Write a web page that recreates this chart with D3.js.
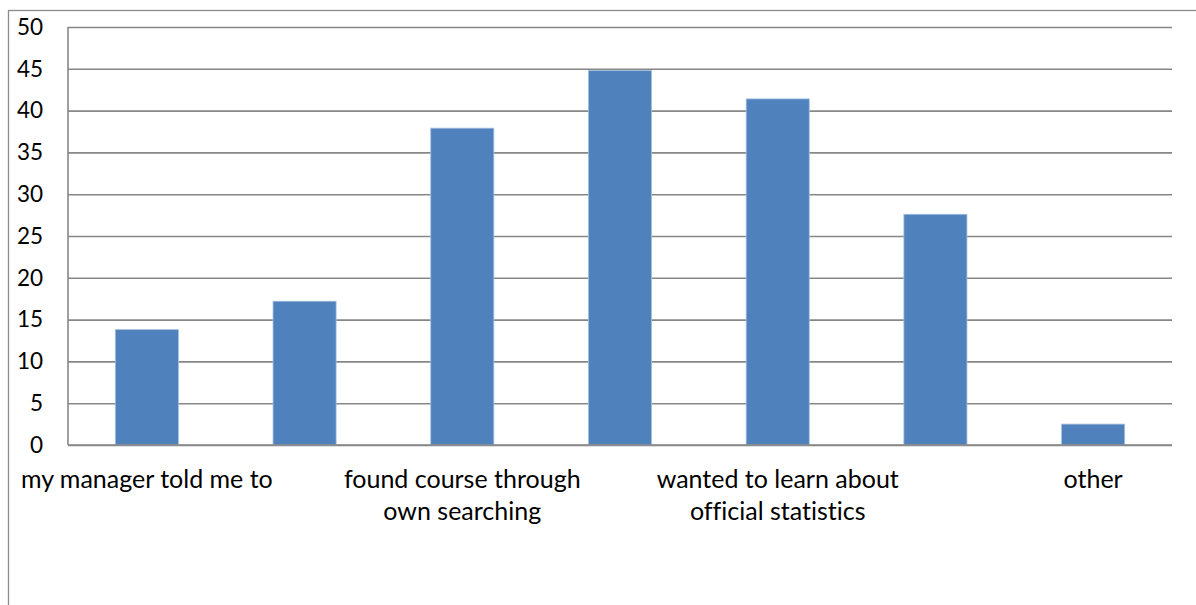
<!DOCTYPE html>
<html>
<head>
<meta charset="utf-8">
<script src="https://cdn.jsdelivr.net/npm/d3@7/dist/d3.min.js"></script>
<style>
  html, body { margin: 0; padding: 0; background: #fff; }
  svg { display: block; }
  text { font-family: Lato, "Liberation Sans", sans-serif; fill: #000; font-variant-ligatures: none; }
</style>
</head>
<body>
<svg id="chart" width="1196" height="605"></svg>
<script>
// Data (labels of alternate categories are hidden in the original chart)
const categories = [
  "my manager told me to",
  "",
  "found course through own searching",
  "",
  "wanted to learn about official statistics",
  "",
  "other"
];
const values = [13.8, 17.2, 37.9, 44.8, 41.4, 27.6, 2.5];
const yTicks = [0, 5, 10, 15, 20, 25, 30, 35, 40, 45, 50];

const svg = d3.select("#chart");
const W = 1196, H = 605;

// outer chart border
svg.append("rect")
  .attr("x", 8.5).attr("y", 10.5)
  .attr("width", W + 20).attr("height", H + 20)
  .attr("fill", "#fff")
  .attr("stroke", "#8c8c8c")
  .attr("stroke-width", 1.3);

const plot = { left: 68, right: 1172, top: 27, bottom: 445 };

const x = d3.scaleBand()
  .domain(d3.range(categories.length))
  .range([plot.left, plot.right])
  .paddingInner(0.6)
  .paddingOuter(0.3);

const y = d3.scaleLinear()
  .domain([0, 50])
  .range([plot.bottom, plot.top]);

// gridlines + tick labels
const yAxis = d3.axisLeft(y)
  .tickValues(yTicks)
  .tickSize(-(plot.right - plot.left))
  .tickFormat(d3.format("d"))
  .tickPadding(25);

const gy = svg.append("g")
  .attr("transform", `translate(${plot.left},0)`)
  .call(yAxis);
gy.select(".domain").remove();
gy.selectAll(".tick line")
  .attr("stroke", "#878787")
  .attr("stroke-width", 1.6);
gy.selectAll(".tick text")
  .attr("font-size", 22.5)
  .attr("fill", "#000")
  .style("font-family", "Lato, 'Liberation Sans', sans-serif");

// vertical axis line
svg.append("line")
  .attr("x1", plot.left).attr("x2", plot.left)
  .attr("y1", y(50)).attr("y2", y(0))
  .attr("stroke", "#878787")
  .attr("stroke-width", 1.6);

// bars
svg.append("g")
  .selectAll("rect")
  .data(values)
  .join("rect")
  .attr("x", (d, i) => x(i))
  .attr("width", x.bandwidth())
  .attr("y", d => y(d))
  .attr("height", d => y(0) - y(d))
  .attr("fill", "#4f81bd")
  .attr("stroke", "#a7bfdf")
  .attr("stroke-width", 0.8);

// baseline redraw on top
svg.append("line")
  .attr("x1", plot.left).attr("x2", plot.right)
  .attr("y1", y(0)).attr("y2", y(0))
  .attr("stroke", "#878787")
  .attr("stroke-width", 1.6);

// category labels with wrapping
const maxW = 265;
const gx = svg.append("g");
categories.forEach((label, i) => {
  if (!label) return;
  const cx = x(i) + x.bandwidth() / 2;
  const t = gx.append("text")
    .attr("x", cx)
    .attr("y", 488)
    .attr("text-anchor", "middle")
    .attr("font-size", 25);
  const words = label.split(" ");
  let line = [];
  let tspan = t.append("tspan").attr("x", cx).attr("dy", 0);
  words.forEach(w => {
    line.push(w);
    tspan.text(line.join(" "));
    if (tspan.node().getComputedTextLength() > maxW && line.length > 1) {
      line.pop();
      tspan.text(line.join(" "));
      line = [w];
      tspan = t.append("tspan").attr("x", cx).attr("dy", 32).text(w);
    }
  });
});
</script>
</body>
</html>
